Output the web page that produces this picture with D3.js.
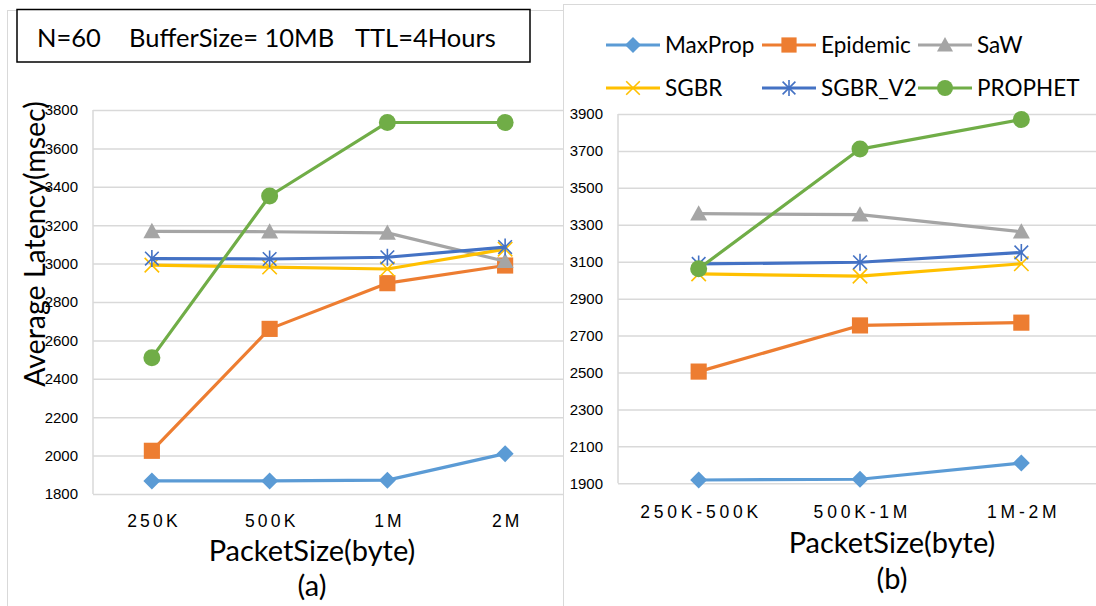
<!DOCTYPE html>
<html>
<head>
<meta charset="utf-8">
<script src="https://cdn.jsdelivr.net/npm/d3@7"></script>
<style>
  html, body { margin: 0; padding: 0; background: #fff; }
  svg { display: block; font-family: Lato, "Open Sans", sans-serif; }
</style>
</head>
<body>
<svg id="chart" width="1096" height="606"></svg>
<script>
// Series names and colours (shared by both panels)
const seriesNames = ["MaxProp", "Epidemic", "SaW", "SGBR", "SGBR_V2", "PROPHET"];
const seriesColors = ["#5B9BD5", "#ED7D31", "#A5A5A5", "#FFC000", "#4472C4", "#70AD47"];
const seriesMarkers = ["diamond", "square", "triangle", "x", "star", "circle"];

// Panel (a): fixed packet sizes
const categoriesA = ["250K", "500K", "1M", "2M"];
const maxPropA  = [1868, 1868, 1872, 2010];
const epidemicA = [2025, 2660, 2898, 2990];
const sawA      = [3168, 3166, 3160, 3012];
const sgbrA     = [2992, 2982, 2972, 3075];
const sgbrV2A   = [3026, 3024, 3033, 3086];
const prophetA  = [2510, 3352, 3735, 3735];
const ticksA = [1800, 2000, 2200, 2400, 2600, 2800, 3000, 3200, 3400, 3600, 3800];

// Panel (b): packet size ranges
const categoriesB = ["250K-500K", "500K-1M", "1M-2M"];
const maxPropB  = [1918, 1922, 2010];
const epidemicB = [2505, 2755, 2770];
const sawB      = [3360, 3355, 3262];
const sgbrB     = [3034, 3022, 3089];
const sgbrV2B   = [3088, 3097, 3150];
const prophetB  = [3062, 3710, 3870];
const ticksB = [1900, 2100, 2300, 2500, 2700, 2900, 3100, 3300, 3500, 3700, 3900];

const svg = d3.select("#chart");
const GRID = "#D9D9D9";

// Marker drawing, centred at (x, y)
function drawMarker(g, type, x, y, color, size) {
  const s = size / 2;
  if (type === "diamond") {
    g.append("path").attr("d", `M${x},${y - s}L${x + s},${y}L${x},${y + s}L${x - s},${y}Z`).attr("fill", color);
  } else if (type === "square") {
    g.append("rect").attr("x", x - s * 0.95).attr("y", y - s * 0.95).attr("width", s * 1.9).attr("height", s * 1.9).attr("fill", color);
  } else if (type === "triangle") {
    g.append("path").attr("d", `M${x},${y - s}L${x + s},${y + s * 0.8}L${x - s},${y + s * 0.8}Z`).attr("fill", color);
  } else if (type === "circle") {
    g.append("circle").attr("cx", x).attr("cy", y).attr("r", s).attr("fill", color);
  } else if (type === "x") {
    const r = s * 0.85;
    g.append("path").attr("d", `M${x - r},${y - r}L${x + r},${y + r}M${x - r},${y + r}L${x + r},${y - r}`)
      .attr("stroke", color).attr("stroke-width", 1.6).attr("fill", "none");
  } else if (type === "star") {
    const r = s * 0.8;
    g.append("path").attr("d", `M${x - r},${y - r}L${x + r},${y + r}M${x - r},${y + r}L${x + r},${y - r}M${x},${y - s}L${x},${y + s}`)
      .attr("stroke", color).attr("stroke-width", 1.6).attr("fill", "none");
  }
}

function drawPanel(opts) {
  const { categories, values, ticks, xRange, yRange, gridRight, tickLabelX, xLabelY, letterSpacing } = opts;
  const x = d3.scalePoint().domain(categories).range(xRange).padding(0.5);
  const y = d3.scaleLinear().domain([ticks[0], ticks[ticks.length - 1]]).range(yRange);
  const g = svg.append("g");

  // horizontal gridlines with tick labels
  const yAxis = g.append("g")
    .attr("transform", `translate(${xRange[0]},0)`)
    .call(d3.axisLeft(y).tickValues(ticks).tickSize(-(gridRight - xRange[0])).tickPadding(xRange[0] - tickLabelX).tickFormat(d3.format("d")));
  yAxis.select(".domain").attr("stroke", GRID).attr("stroke-width", 1.5).attr("d", `M0,${yRange[1]}V${yRange[0]}`);
  yAxis.selectAll(".tick line").attr("stroke", GRID).attr("stroke-width", 1.5);
  yAxis.selectAll(".tick text").attr("fill", "#000").style("font-size", "15px");

  // category labels
  const xAxis = g.append("g")
    .attr("transform", `translate(0,${xLabelY})`)
    .call(d3.axisBottom(x).tickSize(0).tickPadding(0));
  xAxis.select(".domain").remove();
  xAxis.selectAll(".tick text")
    .attr("fill", "#000")
    .attr("dy", 0)
    .attr("dx", letterSpacing / 2)
    .style("font-size", "17.5px")
    .style("letter-spacing", letterSpacing + "px");

  // series lines and markers
  values.forEach((vals, i) => {
    const sg = g.append("g");
    const line = d3.line().x((d, j) => x(categories[j])).y(d => y(d));
    sg.append("path").datum(vals).attr("d", line)
      .attr("fill", "none").attr("stroke", seriesColors[i]).attr("stroke-width", 3.2)
      .attr("stroke-linejoin", "round").attr("stroke-linecap", "round");
    vals.forEach((v, j) => drawMarker(sg, seriesMarkers[i], x(categories[j]), y(v), seriesColors[i], 17));
  });
  return g;
}

// Panel (a) frame
svg.append("rect").attr("x", 7.5).attr("y", 10.5).attr("width", 600).attr("height", 620)
  .attr("fill", "#fff").attr("stroke", GRID).attr("stroke-width", 1);

drawPanel({
  categories: categoriesA,
  values: [maxPropA, epidemicA, sawA, sgbrA, sgbrV2A, prophetA],
  ticks: ticksA,
  xRange: [93, 564],
  yRange: [494, 110],
  gridRight: 564,
  tickLabelX: 78,
  xLabelY: 527,
  letterSpacing: 3.2
});

// Panel (a) titles
svg.append("text").attr("transform", "translate(45,244) rotate(-90)")
  .attr("text-anchor", "middle").style("font-size", "28.5px").text("Average Latency(msec)");
svg.append("text").attr("x", 312).attr("y", 561).attr("text-anchor", "middle")
  .style("font-size", "29px").text("PacketSize(byte)");
svg.append("text").attr("x", 312).attr("y", 596).attr("text-anchor", "middle")
  .style("font-size", "29px").text("(a)");

// Parameter box
svg.append("rect").attr("x", 17).attr("y", 9.5).attr("width", 513).attr("height", 52.5)
  .attr("fill", "#fff").attr("stroke", "#000").attr("stroke-width", 1.5);
const boxText = svg.append("g").style("font-size", "25.5px");
boxText.append("text").attr("x", 37).attr("y", 47).text("N=60");
boxText.append("text").attr("x", 129).attr("y", 47).text("BufferSize= 10MB");
boxText.append("text").attr("x", 355).attr("y", 47).text("TTL=4Hours");

// Panel (b) frame
svg.append("rect").attr("x", 563.5).attr("y", 4.5).attr("width", 600).attr("height", 620)
  .attr("fill", "#fff").attr("stroke", GRID).attr("stroke-width", 1);

drawPanel({
  categories: categoriesB,
  values: [maxPropB, epidemicB, sawB, sgbrB, sgbrV2B, prophetB],
  ticks: ticksB,
  xRange: [618, 1102],
  yRange: [483.3, 114],
  gridRight: 1100,
  tickLabelX: 603,
  xLabelY: 518,
  letterSpacing: 3.8
});

svg.append("text").attr("x", 892).attr("y", 553).attr("text-anchor", "middle")
  .style("font-size", "29px").text("PacketSize(byte)");
svg.append("text").attr("x", 892).attr("y", 589).attr("text-anchor", "middle")
  .style("font-size", "29px").text("(b)");

// Legend (two rows of three)
const legendCols = [606, 762, 918];
const legendRows = [45, 88];
const legend = svg.append("g");
seriesNames.forEach((name, i) => {
  const lx = legendCols[i % 3];
  const ly = legendRows[Math.floor(i / 3)];
  const lg = legend.append("g");
  lg.append("line").attr("x1", lx).attr("x2", lx + 54).attr("y1", ly).attr("y2", ly)
    .attr("stroke", seriesColors[i]).attr("stroke-width", 3.2);
  drawMarker(lg, seriesMarkers[i], lx + 27, ly, seriesColors[i], 16);
  lg.append("text").attr("x", lx + 59).attr("y", ly).attr("dy", "0.35em")
    .style("font-size", "22.5px").text(name);
});
</script>
</body>
</html>
